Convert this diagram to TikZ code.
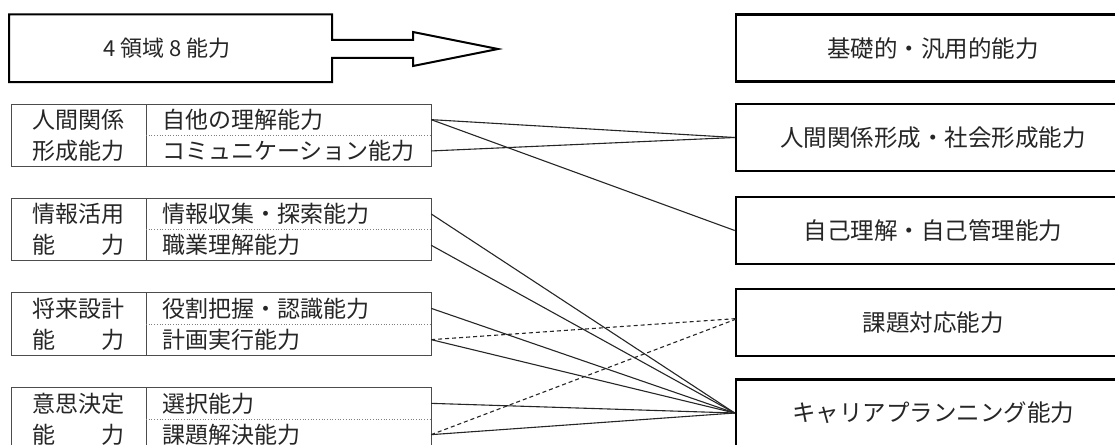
\documentclass[tikz,border=0pt]{standalone}
\usepackage{fontspec}
\setmainfont{Noto Sans CJK JP}
\usetikzlibrary{calc}
\newcommand{\abilitygroup}[6]{%
  \draw[frame] (11,#2) rectangle (431,#2+62.6);
  \draw[frame] (146,#2) -- (146,#2+62.6);
  \draw[divline] (146,#2+31.3) -- (431,#2+31.3);
  \node[lab] (#1la) at (78.5,#2+15.65) {#3};
  \node[lab] (#1lb) at (78.5,#2+46.95) {#4};
  \node[cell] (#1a) at (288.5,#2+15.65) {#5};
  \node[cell] (#1b) at (288.5,#2+46.95) {#6};
}
\begin{document}
\begin{tikzpicture}[x=1pt,y=-1pt,
  frame/.style={draw=black!70, line width=0.9pt},
  divline/.style={draw=black!50, line width=0.7pt, dotted},
  lab/.style={inner sep=0pt, minimum width=135pt, minimum height=31.3pt, font=\fontsize{23}{26}\selectfont, text=black!85},
  cell/.style={inner xsep=16pt, inner ysep=0pt, text width=253pt, minimum height=31.3pt, align=left, font=\fontsize{23}{26}\selectfont, text=black!85},
  rbox/.style={draw=black, line width=2.6pt, minimum width=394pt, minimum height=67pt, inner sep=0pt, font=\fontsize{23.5}{26}\selectfont, text=black!85},
  conn/.style={draw=black!85, line width=1.1pt},
  dconn/.style={draw=black!85, line width=1.1pt, dash pattern=on 4pt off 3pt},
  bigarrow/.style={draw=black, line width=2pt, fill=white}
]
\useasboundingbox (0,0) rectangle (1115,444);
\clip (0,0) rectangle (1115,444);
\fill[white] (0,0) rectangle (1115,444);

% top block arrow
\draw[bigarrow] (9,14.3) -- (332,14.3) -- (332,40) -- (413,40) -- (413,32) -- (498,49)
  -- (413,66) -- (413,58) -- (332,58) -- (332,82) -- (9,82) -- cycle;
\node[anchor=west, inner sep=0pt, font=\fontsize{22}{25}\selectfont, text=black!85] (src) at (103,48.5) {4\hspace{5pt}領域\hspace{5pt}8\hspace{5pt}能力};

% right boxes
\node[rbox] (r1) at (933,48.2) {基礎的・汎用的能力};
\node[rbox] (r2) at (933,137.5) {人間関係形成・社会形成能力};
\node[rbox] (r3) at (933,230.5) {自己理解・自己管理能力};
\node[rbox] (r4) at (933,322.5) {課題対応能力};
\node[rbox] (r5) at (933,413) {キャリアプランニング能力};

% left groups
\abilitygroup{g1}{104}{人間関係}{形成能力}{自他の理解能力}{コミュニケーション能力}
\abilitygroup{g2}{198.3}{情報活用}{能　　力}{情報収集・探索能力}{職業理解能力}
\abilitygroup{g3}{292.7}{将来設計}{能　　力}{役割把握・認識能力}{計画実行能力}
\abilitygroup{g4}{387.7}{意思決定}{能　　力}{選択能力}{課題解決能力}

% connectors
\draw[conn] (g1a.east) -- (r2.west);
\draw[conn] (g1a.east) -- (r3.west);
\draw[conn] (g1b.east) -- (r2.west);
\draw[conn] (g2a.east) -- (r5.west);
\draw[conn] (g2b.east) -- (r5.west);
\draw[conn] (g3a.east) -- (r5.west);
\draw[conn] (g3b.east) -- (r5.west);
\draw[dconn] (g3b.east) -- ($(r4.west)+(3,-4)$);
\draw[conn] (g4a.east) -- (r5.west);
\draw[conn] (g4b.east) -- (r5.west);
\draw[dconn] (g4b.east) -- ($(r4.west)+(3,-4)$);
\end{tikzpicture}
\end{document}
